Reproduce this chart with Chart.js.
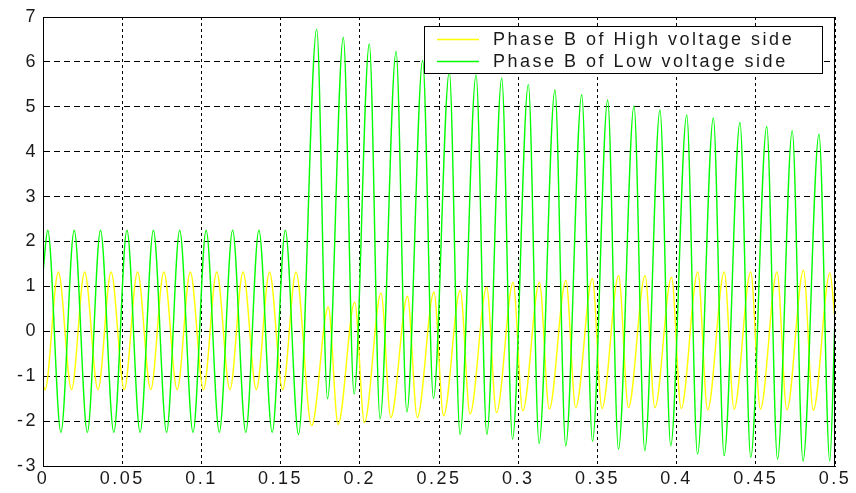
<!DOCTYPE html>
<html>
<head>
<meta charset="utf-8">
<script src="https://cdn.jsdelivr.net/npm/chart.js@4.4.0/dist/chart.umd.min.js"></script>
<style>
    html, body { margin: 0; padding: 0; background: #fff; }
    #wrap { width: 856px; height: 493px; }
</style>
</head>
<body>
<div id="wrap"><canvas id="waveChart"></canvas></div>
<script>
// Phase B, high voltage side (yellow): time (s) and value
const highT = [0, 0.0013, 0.0097, 0.018, 0.0263, 0.0347, 0.043, 0.0513, 0.0597, 0.068,
    0.0763, 0.0847, 0.093, 0.1013, 0.1097, 0.118, 0.1263, 0.1347, 0.143, 0.1513,
    0.1597, 0.1696, 0.1801, 0.1863, 0.1968, 0.2029, 0.2134, 0.2196, 0.2301, 0.2363,
    0.2468, 0.2529, 0.2634, 0.2696, 0.2801, 0.2863, 0.2968, 0.3029, 0.3134, 0.3196,
    0.3301, 0.3363, 0.3468, 0.3529, 0.3634, 0.3696, 0.3801, 0.3863, 0.3968, 0.4029,
    0.4134, 0.4196, 0.4301, 0.4363, 0.4468, 0.4529, 0.4634, 0.4696, 0.4801, 0.4863,
    0.4968, 0.5];
const highV = [-1.2, -1.3, 1.32, -1.3, 1.32, -1.3, 1.32, -1.3, 1.32, -1.3,
    1.32, -1.3, 1.32, -1.3, 1.32, -1.3, 1.32, -1.3, 1.32, -1.3,
    1.32, -2.1, 0.54, -2.07, 0.65, -2.03, 0.85, -1.92, 0.78, -1.92,
    0.87, -1.88, 0.91, -1.84, 0.98, -1.81, 1.09, -1.77, 1.09, -1.73,
    1.13, -1.7, 1.17, -1.72, 1.24, -1.7, 1.24, -1.7, 1.2, -1.72,
    1.32, -1.75, 1.32, -1.73, 1.32, -1.73, 1.32, -1.75, 1.36, -1.76,
    1.3, 0.25];

// Phase B, low voltage side (green): time (s) and value
const lowT = [0, 0.003, 0.0113, 0.0197, 0.028, 0.0363, 0.0447, 0.053, 0.0613, 0.0697,
    0.078, 0.0863, 0.0947, 0.103, 0.1113, 0.1197, 0.128, 0.1363, 0.1447, 0.153,
    0.1613, 0.1728, 0.1796, 0.1896, 0.1964, 0.206, 0.2128, 0.2229, 0.2297, 0.2397,
    0.2465, 0.2565, 0.2633, 0.2734, 0.2802, 0.2896, 0.2964, 0.3064, 0.3132, 0.3232,
    0.33, 0.3401, 0.3469, 0.3565, 0.3633, 0.3731, 0.3799, 0.3895, 0.3963, 0.4064,
    0.4132, 0.4232, 0.43, 0.44, 0.4468, 0.4569, 0.4637, 0.473, 0.4798, 0.4899,
    0.4967, 0.5];
const lowV = [1.3, 2.25, -2.25, 2.25, -2.25, 2.25, -2.25, 2.25, -2.25, 2.25,
    -2.25, 2.25, -2.25, 2.25, -2.25, 2.25, -2.25, 2.25, -2.25, 2.25,
    -2.3, 6.73, -1.5, 6.55, -1.4, 6.4, -1.95, 6.23, -1.8, 6.03,
    -1.5, 5.78, -2.3, 5.71, -2.3, 5.64, -2.4, 5.5, -2.5, 5.38,
    -2.55, 5.27, -2.45, 5.15, -2.63, 5.02, -2.66, 4.93, -2.55, 4.82,
    -2.74, 4.75, -2.77, 4.65, -2.81, 4.56, -2.85, 4.47, -2.89, 4.39,
    -2.89, 0.3];

const seriesLabels = ['Phase B of High voltage side', 'Phase B of Low voltage side'];
const xTickLabels = ['0', '0.05', '0.1', '0.15', '0.2', '0.25', '0.3', '0.35', '0.4', '0.45', '0.5'];
const yTickLabels = ['-3', '-2', '-1', '0', '1', '2', '3', '4', '5', '6', '7'];

const FONT = { family: '"Liberation Sans", Arial, sans-serif', size: 18 };
const SPACING = '2.5px';
const TEXT_COLOR = '#1a1a1a';

function toPoints(ts, vs) {
    return ts.map((t, i) => ({ x: t, y: vs[i] }));
}

// wide lettering like the original figure
const spacingPlugin = {
    id: 'spacing',
    beforeLayout(chart) { chart.ctx.letterSpacing = SPACING; },
    beforeDraw(chart) { chart.ctx.letterSpacing = SPACING; }
};

// box around the axes and the legend in the top right corner
const frameLegendPlugin = {
    id: 'frameLegend',
    afterDraw(chart) {
        const ctx = chart.ctx;
        const a = chart.chartArea;
        ctx.save();
        ctx.strokeStyle = '#000';
        ctx.lineWidth = 1;
        ctx.strokeRect(Math.round(a.left) + 0.5, Math.round(a.top) + 0.5,
            Math.round(a.right - a.left) - 1, Math.round(a.bottom - a.top));

        const bx = a.right - 411, by = a.top + 9, bw = 398, bh = 47;
        ctx.fillStyle = '#fff';
        ctx.fillRect(bx, by, bw, bh);
        ctx.strokeRect(bx + 0.5, by + 0.5, bw, bh);

        ctx.font = FONT.size + 'px ' + FONT.family;
        ctx.letterSpacing = SPACING;
        ctx.textBaseline = 'middle';
        chart.data.datasets.forEach((ds, i) => {
            const y = Math.round(by + 13 + i * 21.5) + 0.5;
            ctx.strokeStyle = ds.borderColor;
            ctx.lineWidth = 1.4;
            ctx.beginPath();
            ctx.moveTo(bx + 13, y);
            ctx.lineTo(bx + 55, y);
            ctx.stroke();
            ctx.fillStyle = TEXT_COLOR;
            ctx.fillText(ds.label, bx + 69, y + 1);
        });
        ctx.restore();
    }
};

function loadChart() {
    const ctx = document.getElementById('waveChart');
    new Chart(ctx, {
        type: 'line',
        data: {
            datasets: [{
                label: seriesLabels[0],
                data: toPoints(highT, highV),
                borderColor: '#ffff00',
                order: 1
            }, {
                label: seriesLabels[1],
                data: toPoints(lowT, lowV),
                borderColor: '#00ff00',
                order: 0
            }]
        },
        options: {
            responsive: true,
            maintainAspectRatio: false,
            animation: false,
            devicePixelRatio: 1,
            layout: { padding: { top: 17, right: 21, left: 0, bottom: 0 } },
            elements: {
                point: { radius: 0 },
                line: { borderWidth: 1.4, cubicInterpolationMode: 'monotone', fill: false }
            },
            plugins: {
                legend: { display: false },
                tooltip: { enabled: false }
            },
            scales: {
                x: {
                    type: 'linear',
                    min: 0,
                    max: 0.5,
                    afterFit(scale) { scale.height = 27; },
                    afterBuildTicks(scale) {
                        scale.ticks = xTickLabels.map(l => ({ value: parseFloat(l) }));
                    },
                    ticks: {
                        autoSkip: false,
                        maxRotation: 0,
                        padding: 2,
                        color: TEXT_COLOR,
                        font: FONT,
                        callback: (v, i) => xTickLabels[i]
                    },
                    grid: { color: '#000', lineWidth: 1, drawTicks: false },
                    border: { display: true, color: '#000', dash: [3, 3] }
                },
                y: {
                    min: -3,
                    max: 7,
                    afterFit(scale) { scale.width = 43; },
                    afterBuildTicks(scale) {
                        scale.ticks = yTickLabels.map(l => ({ value: parseFloat(l) }));
                    },
                    ticks: {
                        padding: 5,
                        color: TEXT_COLOR,
                        font: FONT,
                        callback: (v, i) => yTickLabels[i]
                    },
                    grid: { color: '#000', lineWidth: 1, drawTicks: false },
                    border: { display: true, color: '#000', dash: [6, 4] }
                }
            }
        },
        plugins: [spacingPlugin, frameLegendPlugin]
    });
}

document.addEventListener('DOMContentLoaded', loadChart);
</script>
</body>
</html>
